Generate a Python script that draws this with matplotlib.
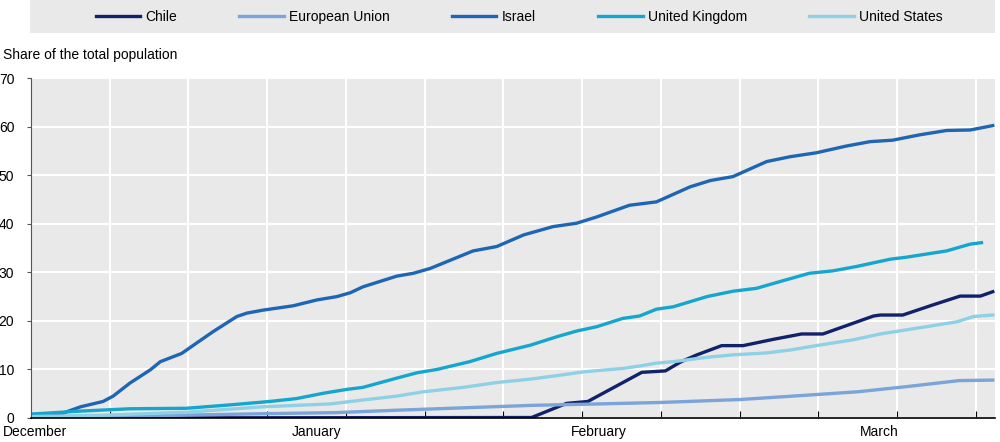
import matplotlib.pyplot as plt
from matplotlib.patches import Rectangle

# days since the start of the series, and share of population vaccinated (%)
israel_days = [0, 2.6, 4.4, 6.4, 7.3, 8.8, 10.6, 11.5, 13.4, 14.7, 16.2, 18.3, 19.2, 20.6, 23.3, 25.4,
               27.2, 28.4, 29.5, 32.5, 34.0, 35.5, 39.3, 41.4, 43.8, 46.4, 48.5, 50.3, 53.2, 55.6,
               58.6, 60.4, 62.4, 65.4, 67.5, 69.8, 72.5, 74.6, 76.6, 79.0, 81.4, 83.5, 85.5]
israel = [0.7, 0.8, 2.3, 3.4, 4.5, 7.2, 9.9, 11.6, 13.3, 15.4, 17.8, 20.9, 21.6, 22.2, 23.1, 24.3,
          25.0, 25.8, 27.0, 29.2, 29.8, 30.8, 34.4, 35.3, 37.7, 39.4, 40.1, 41.4, 43.8, 44.5,
          47.6, 48.9, 49.7, 52.8, 53.8, 54.6, 56.0, 56.9, 57.2, 58.3, 59.2, 59.3, 60.2]

uk_days = [0, 4.2, 8.8, 13.8, 17.7, 21.2, 23.6, 26.0, 28.1, 29.5, 32.5, 34.3, 36.1, 39.0, 41.4,
           44.4, 46.7, 48.5, 50.3, 52.6, 54.1, 55.6, 57.1, 60.1, 62.4, 64.5, 66.6, 69.2, 71.3,
           73.4, 76.4, 77.8, 81.4, 83.5, 84.5]
uk = [0.8, 1.4, 1.9, 2.0, 2.7, 3.4, 4.0, 5.1, 5.9, 6.3, 8.2, 9.3, 10.0, 11.6, 13.3,
      15.0, 16.7, 17.9, 18.8, 20.5, 21.0, 22.4, 22.9, 25.0, 26.1, 26.7, 28.1, 29.8, 30.3,
      31.2, 32.7, 33.1, 34.4, 35.8, 36.1]

us_days = [0, 6.8, 13.9, 20.6, 26.6, 29.5, 32.5, 34.9, 38.4, 41.4, 44.4, 47.3, 49.1, 52.6, 54.1,
           55.6, 57.1, 60.1, 62.4, 65.4, 67.5, 69.8, 73.1, 75.5, 79.6, 82.3, 83.8, 85.5]
us = [0.3, 0.6, 1.2, 2.3, 2.9, 3.7, 4.5, 5.4, 6.3, 7.3, 8.0, 8.9, 9.5, 10.2, 10.7,
      11.3, 11.6, 12.5, 13.0, 13.4, 14.0, 14.9, 16.1, 17.3, 18.8, 19.8, 20.9, 21.2]

eu_days = [0, 7, 14, 21, 27, 32.5, 38.5, 44.5, 50.5, 56, 63, 69, 73.5, 78, 82.5, 85.5]
eu = [0.1, 0.3, 0.6, 0.9, 1.1, 1.6, 2.1, 2.6, 2.9, 3.2, 3.8, 4.7, 5.4, 6.5, 7.7, 7.8]

chile_days = [0, 44.5, 47.6, 49.5, 54.3, 56.4, 57.8, 59.2, 61.4, 63.3, 66.0, 68.5, 70.4,
              74.9, 75.5, 77.5, 80.2, 82.6, 84.4, 85.5]
chile = [0, 0.1, 3.0, 3.4, 9.4, 9.7, 11.6, 13.0, 14.9, 14.9, 16.2, 17.3, 17.3,
         21.0, 21.2, 21.2, 23.3, 25.1, 25.1, 26.0]

month_labels = ["December", "January", "February", "March"]
month_pos = [0.4, 25.4, 50.5, 75.4]

plt.rcParams['font.family'] = ['Liberation Sans', 'DejaVu Sans']
fs = 10

fig = plt.figure(figsize=(10, 4.42), dpi=100)
ax = fig.add_axes([0.031, 0.0543, 0.964, 0.7692])
ax.set_facecolor('#e9e9e9')

ax.plot(chile_days, chile, color='#12226a', lw=2.4, label='Chile')
ax.plot(eu_days, eu, color='#7ba4d8', lw=2.4, label='European Union')
ax.plot(israel_days, israel, color='#1e66b3', lw=2.4, label='Israel')
ax.plot(uk_days, uk, color='#16a6cd', lw=2.4, label='United Kingdom')
ax.plot(us_days, us, color='#8ed1e5', lw=2.4, label='United States')

ax.set_xlim(0, 85.7)
ax.set_ylim(0, 70)
ax.set_yticks(range(0, 71, 10))
ax.set_xticks(range(7, 85, 7))
ax.set_xticklabels([])
ax.set_xticks(month_pos, minor=True)
ax.set_xticklabels(month_labels, minor=True)
ax.tick_params(axis='x', which='major', direction='in', length=5, color='black')
ax.tick_params(axis='x', which='minor', length=0, pad=5, labelsize=fs)
ax.tick_params(axis='y', direction='out', length=3, pad=9, labelsize=fs, color='#555555')

ax.grid(True, which='major', color='white', lw=1.5)
ax.set_axisbelow(True)
for s in ['top', 'right']:
    ax.spines[s].set_visible(False)
ax.spines['left'].set_color('#555555')
ax.spines['bottom'].set_color('black')
ax.spines['bottom'].set_linewidth(1.2)

# legend band at the top
fig.patches.append(Rectangle((0.03, 1 - 33 / 442), 0.965, 33 / 442, transform=fig.transFigure,
                             facecolor='#e9e9e9', edgecolor='none', zorder=0))
handles, labels = ax.get_legend_handles_labels()
fig.legend(handles, labels, loc='center', bbox_to_anchor=(0.519, 1 - 17 / 442), ncol=5,
           frameon=False, fontsize=fs, handlelength=3.2, handletextpad=0.36,
           columnspacing=4.5)

fig.text(0.003, 1 - 55 / 442, 'Share of the total population', ha='left', va='center', fontsize=fs)

fig.savefig('out.png', dpi=100)
